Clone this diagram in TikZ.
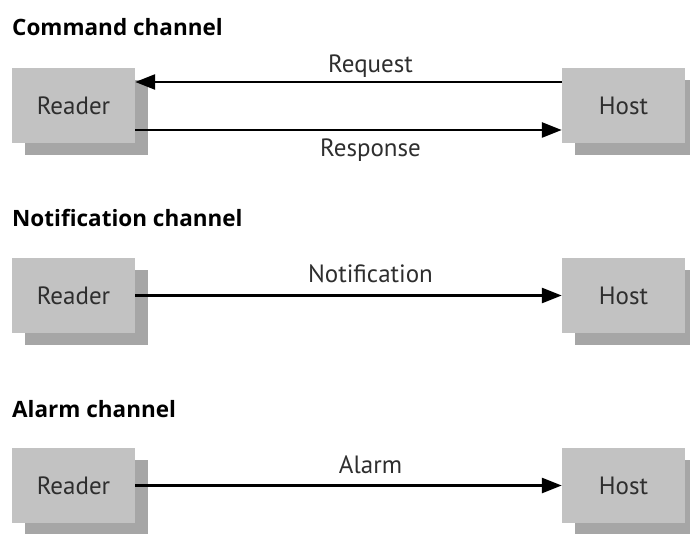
\documentclass[tikz,border=0pt]{standalone}
\usepackage{fontspec}
\setmainfont{PT Sans}
\newfontfamily\headfont{Open Sans}
\usetikzlibrary{arrows.meta,shadows}
\definecolor{boxfill}{HTML}{C2C2C2}
\definecolor{boxshade}{HTML}{A6A6A6}
\definecolor{boxtext}{HTML}{2E2E2E}
\begin{document}
\begin{tikzpicture}[x=1pt,y=-1pt,
  unit/.style={fill=boxfill, minimum width=123pt, minimum height=75pt,
    inner sep=0pt, text=boxtext, font=\fontsize{25}{28}\selectfont,
    drop shadow={shadow xshift=13pt, shadow yshift=-12pt, fill=boxshade, opacity=1}},
  title/.style={anchor=base west, font=\headfont\bfseries\fontsize{22.5}{26}\selectfont, inner sep=0pt},
  lbl/.style={anchor=base, font=\fontsize{25}{28}\selectfont, inner sep=0pt, text=boxtext},
  link/.style={line width=2.6pt, -{Triangle[length=20pt,width=15pt]}}
]
\useasboundingbox (0,0) rectangle (690,534);

% Command channel
\node[title] (t1) at (12,36) {Command channel};
\node[unit] (r1) at (73.5,105.5) {Reader};
\node[unit] (h1) at (623.5,105.5) {Host};
\draw[link] ([yshift=23.5pt]h1.west) -- ([yshift=23.5pt]r1.east);
\draw[link] ([yshift=-24.5pt]r1.east) -- ([yshift=-24.5pt]h1.west);
\node[lbl] (l1) at (370.5,73) {Request};
\node[lbl] (l2) at (370.5,157) {Response};

% Notification channel
\node[title] (t2) at (12,227) {Notification channel};
\node[unit] (r2) at (73.5,295.5) {Reader};
\node[unit] (h2) at (623.5,295.5) {Host};
\draw[link] (r2.east) -- (h2.west);
\node[lbl] (l3) at (370.5,283) {Notification};

% Alarm channel
\node[title] (t3) at (12,417) {Alarm channel};
\node[unit] (r3) at (73.5,485.5) {Reader};
\node[unit] (h3) at (623.5,485.5) {Host};
\draw[link] (r3.east) -- (h3.west);
\node[lbl] (l4) at (370.5,473) {Alarm};
\end{tikzpicture}
\end{document}
